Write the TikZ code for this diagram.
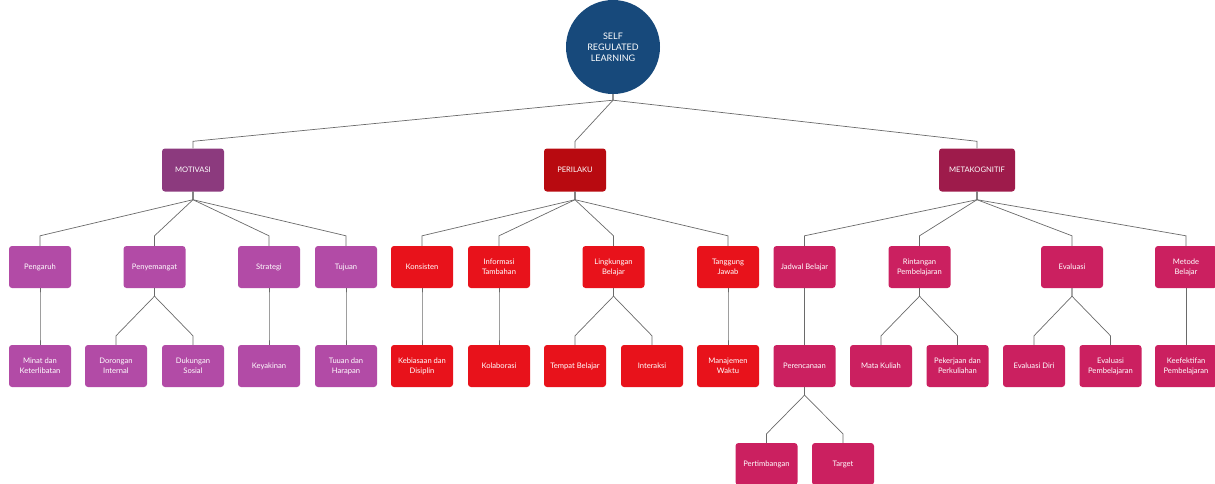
\documentclass[tikz,border=0pt]{standalone}
\usepackage{fontspec}
\setmainfont{Lato}
\usetikzlibrary{calc}
\definecolor{navy}{HTML}{17497B}
\definecolor{motdark}{HTML}{8C3A7E}
\definecolor{motlight}{HTML}{B24BA6}
\definecolor{perdark}{HTML}{B80A10}
\definecolor{perlight}{HTML}{E8121B}
\definecolor{metdark}{HTML}{9E1B4B}
\definecolor{metlight}{HTML}{CB2060}
\definecolor{linegray}{HTML}{6A6A6A}
\begin{document}
\begin{tikzpicture}[x=1pt,y=-1pt,
  box/.style={rounded corners=3pt, minimum width=62pt, minimum height=42pt, inner sep=2pt,
    text=white, font=\fontsize{7.6}{10}\selectfont, align=center},
  mot1/.style={box, fill=motdark, minimum height=43pt},
  mot/.style={box, fill=motlight},
  per1/.style={box, fill=perdark, minimum height=43pt},
  per/.style={box, fill=perlight},
  met1/.style={box, fill=metdark, minimum height=43pt, minimum width=76pt},
  met/.style={box, fill=metlight},
  conn/.style={draw=linegray, line width=0.7pt}]
\useasboundingbox (0,0) rectangle (1215,483);

\node[circle, fill=navy, minimum size=94pt, inner sep=0pt, text=white, align=center,
  font=\fontsize{9}{11}\selectfont] (root) at (613,47) {SELF\\REGULATED\\LEARNING};

% level 1
\node[mot1] (mot) at (193,170) {MOTIVASI};
\node[per1] (per) at (575,170) {PERILAKU};
\node[met1] (met) at (977,170) {METAKOGNITIF};

% level 2
\node[mot] (peng) at (40,267) {Pengaruh};
\node[mot] (peny) at (154.5,267) {Penyemangat};
\node[mot] (stra) at (269,267) {Strategi};
\node[mot] (tuju) at (346,267) {Tujuan};
\node[per] (kons) at (422,267) {Konsisten};
\node[per] (info) at (499,267) {Informasi\\Tambahan};
\node[per] (ling) at (613.5,267) {Lingkungan\\Belajar};
\node[per] (tang) at (728,267) {Tanggung\\Jawab};
\node[met] (jadw) at (804.5,267) {Jadwal Belajar};
\node[met] (rint) at (919.5,267) {Rintangan\\Pembelajaran};
\node[met] (eval) at (1072,267) {Evaluasi};
\node[met] (meto) at (1186,267) {Metode\\Belajar};

% level 3
\node[mot] (mina) at (40,366) {Minat dan\\Keterlibatan};
\node[mot] (doro) at (116,366) {Dorongan\\Internal};
\node[mot] (duku) at (193,366) {Dukungan\\Sosial};
\node[mot] (keya) at (269,366) {Keyakinan};
\node[mot] (tuua) at (346,366) {Tuuan dan\\Harapan};
\node[per] (kebi) at (422,366) {Kebiasaan dan\\Disiplin};
\node[per] (kola) at (499,366) {Kolaborasi};
\node[per] (temp) at (575,366) {Tempat Belajar};
\node[per] (inte) at (652,366) {Interaksi};
\node[per] (mana) at (728,366) {Manajemen\\Waktu};
\node[met] (pere) at (804.5,366) {Perencanaan};
\node[met] (mata) at (881,366) {Mata Kuliah};
\node[met] (peke) at (957.5,366) {Pekerjaan dan\\Perkuliahan};
\node[met] (evdi) at (1034,366) {Evaluasi Diri};
\node[met] (evpe) at (1110.5,366) {Evaluasi\\Pembelajaran};
\node[met] (keef) at (1186,366) {Keefektifan\\Pembelajaran};

% level 4
\node[met] (pert) at (766.5,464) {Pertimbangan};
\node[met] (targ) at (843,464) {Target};

% connectors
\foreach \p/\c in {root/mot, root/per, root/met}
  \draw[conn] (\p.south) -- ($(\p.south)+(0,6)$) -- ($(\c.north)+(0,-7)$) -- (\c.north);
\foreach \p/\c in {mot/peng, mot/peny, mot/stra, mot/tuju,
                   per/kons, per/info, per/ling, per/tang,
                   met/jadw, met/rint, met/eval, met/meto}
  \draw[conn] (\p.south) -- ($(\p.south)+(0,8)$) -- ($(\c.north)+(0,-10)$) -- (\c.north);
\foreach \p/\c in {peng/mina, peny/doro, peny/duku, stra/keya, tuju/tuua,
                   kons/kebi, info/kola, ling/temp, ling/inte, tang/mana,
                   jadw/pere, rint/mata, rint/peke, eval/evdi, eval/evpe, meto/keef,
                   pere/pert, pere/targ}
  \draw[conn] (\p.south) -- ($(\p.south)+(0,8)$) -- ($(\c.north)+(0,-9)$) -- (\c.north);
\end{tikzpicture}
\end{document}
